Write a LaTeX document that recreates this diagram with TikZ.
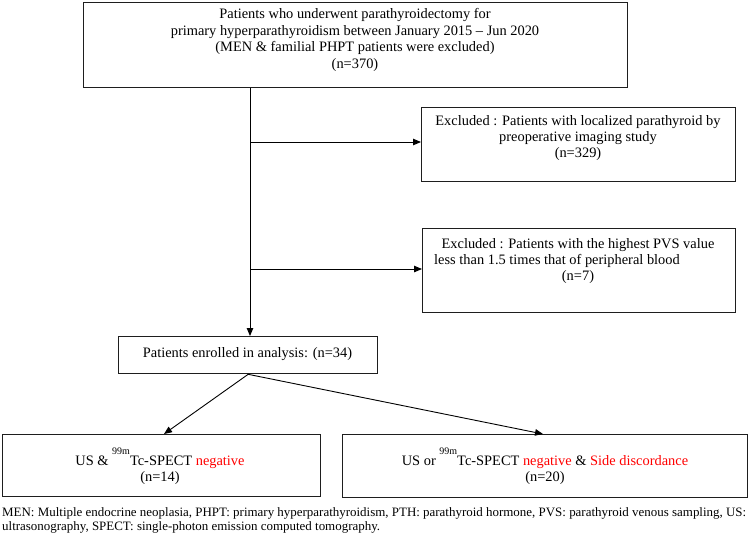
\documentclass[tikz,border=0pt]{standalone}
\usepackage{fontspec}
\setmainfont{Liberation Serif}
\usetikzlibrary{arrows.meta}
\definecolor{boxline}{RGB}{30,30,30}
\definecolor{hired}{RGB}{255,0,0}
\newcommand{\nnm}{\raisebox{11pt}[0pt][0pt]{\fontsize{10}{10}\selectfont 99m}}
\newsavebox{\fnboxa}
\begin{document}
\sbox{\fnboxa}{\fontsize{12.8}{15}\selectfont MEN: Multiple endocrine neoplasia, PHPT: primary hyperparathyroidism, PTH: parathyroid hormone, PVS: parathyroid venous sampling, US:}%
\pgfmathsetmacro{\fnscale}{744/\wd\fnboxa}%
\begin{tikzpicture}[x=1pt,y=-1pt,
  box/.style={draw=boxline, line width=1.3pt, inner sep=0pt, anchor=north west, rectangle},
  txt/.style={font=\fontsize{14.4}{16.4}\selectfont, align=center, inner sep=0pt},
  fn/.style={font=\fontsize{12.8}{15}\selectfont, inner sep=0pt, anchor=base west},
  conn/.style={line width=0.9pt, draw=black, -{Triangle[length=8pt,width=6.5pt]}}]
\useasboundingbox (0,0) rectangle (749,550);

% boxes
\node[box, minimum width=544pt, minimum height=85pt] (top) at (83,1.5) {};
\node[box, minimum width=314pt, minimum height=74pt] (ex1) at (421,107) {};
\node[box, minimum width=313pt, minimum height=84pt] (ex2) at (422,228) {};
\node[box, minimum width=259pt, minimum height=37pt] (enr) at (118,336) {};
\node[box, minimum width=318pt, minimum height=62pt] (bl) at (1.5,434) {};
\node[box, minimum width=405pt, minimum height=63pt] (br) at (342,434) {};

% texts
\node[txt] (ttop) at (355,40) {Patients who underwent parathyroidectomy for\\
primary hyperparathyroidism between January 2015 -- Jun 2020\\
(MEN \& familial PHPT patients were excluded)\\
(n=370)};
\node[txt] (tex1) at (578,138) {Excluded : Patients with localized parathyroid by\\
preoperative imaging study\\
(n=329)};
\node[txt] (tex2) at (578,261) {Excluded : Patients with the highest PVS value\\
less than 1.5 times that of peripheral blood\rule{42pt}{0pt}\\
(n=7)};
\node[txt] (tenr) at (247.5,354) {Patients enrolled in analysis: (n=34)};
\node[txt] (tbl) at (160,470) {US \& \nnm Tc-SPECT \textcolor{hired}{negative}\\
(n=14)};
\node[txt] (tbr) at (545,470) {US or \nnm Tc-SPECT \textcolor{hired}{negative} \& \textcolor{hired}{Side discordance}\\
(n=20)};

% footnote
\node[fn] (fn1) at (2,516) {\scalebox{\fnscale}[1]{\usebox{\fnboxa}}};
\node[fn] (fn2) at (2,530) {\scalebox{\fnscale}[1]{ultrasonography, SPECT: single-photon emission computed tomography.}};

% connectors
\coordinate (vx) at (250,0);
\coordinate (b1) at (250,142);
\coordinate (b2) at (250,269);
\coordinate (tl) at (164,0);
\coordinate (tr) at (543,0);
\draw[conn] (top.south -| vx) -- (enr.north -| vx);
\draw[conn] (b1) -- (b1 -| ex1.west);
\draw[conn] (b2) -- (b2 -| ex2.west);
\draw[conn] (enr.south) -- (bl.north -| tl);
\draw[conn] (enr.south) -- (br.north -| tr);
\end{tikzpicture}
\end{document}
